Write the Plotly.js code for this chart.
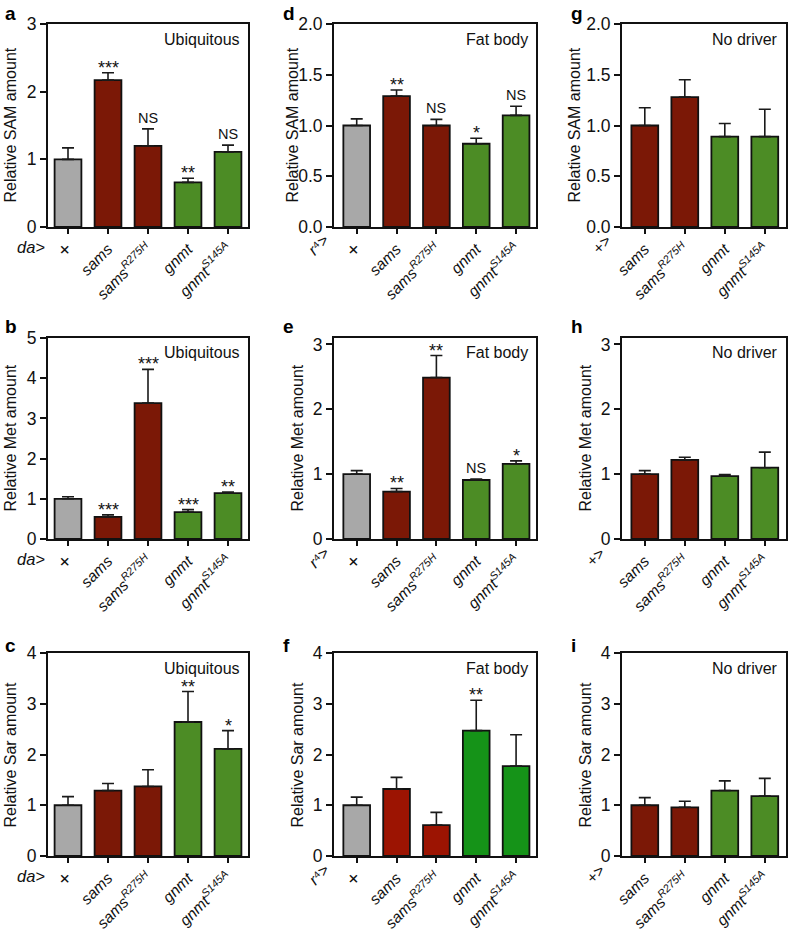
<!DOCTYPE html>
<html>
<head>
<meta charset="utf-8">
<script src="https://cdn.plot.ly/plotly-3.0.1.min.js"></script>
<style>html,body{margin:0;padding:0;background:#fff;}#chart{width:788px;height:933px;}</style>
</head>
<body>
<div id="chart"></div>
<script>
// ---------- DATA ----------
const ticks5 = ['<span style="font-size:20px">+</span>', '<i>sams</i>', '<i>sams</i><sup><i>R275H</i></sup>', '<i>gnmt</i>', '<i>gnmt</i><sup><i>S145A</i></sup>'];
const ticks4 = ['<i>sams</i>', '<i>sams</i><sup><i>R275H</i></sup>', '<i>gnmt</i>', '<i>gnmt</i><sup><i>S145A</i></sup>'];

const samA = [1.00, 2.17, 1.20, 0.66, 1.11];
const samAerr = [0.17, 0.11, 0.25, 0.06, 0.10];
const sigA = ['', '***', 'NS', '**', 'NS'];

const samD = [1.00, 1.29, 1.00, 0.82, 1.10];
const samDerr = [0.065, 0.06, 0.06, 0.055, 0.09];
const sigD = ['', '**', 'NS', '*', 'NS'];

const samG = [1.00, 1.28, 0.89, 0.89];
const samGerr = [0.175, 0.17, 0.13, 0.27];

const metB = [1.00, 0.55, 3.38, 0.67, 1.14];
const metBerr = [0.05, 0.05, 0.84, 0.06, 0.03];
const sigB = ['', '***', '***', '***', '**'];

const metE = [1.00, 0.73, 2.49, 0.91, 1.16];
const metEerr = [0.055, 0.05, 0.34, 0.015, 0.045];
const sigE = ['', '**', '**', 'NS', '*'];

const metH = [1.00, 1.22, 0.97, 1.10];
const metHerr = [0.055, 0.04, 0.025, 0.24];

const sarC = [1.00, 1.29, 1.37, 2.64, 2.11];
const sarCerr = [0.17, 0.14, 0.33, 0.60, 0.36];
const sigC = ['', '', '', '**', '*'];

const sarF = [1.00, 1.32, 0.61, 2.47, 1.77];
const sarFerr = [0.16, 0.23, 0.25, 0.60, 0.62];
const sigF = ['', '', '', '**', ''];

const sarI = [1.00, 0.96, 1.29, 1.18];
const sarIerr = [0.15, 0.12, 0.19, 0.35];

// ---------- STYLE ----------
const GRAY = '#a8a8a8', RED = '#7b1806', GREEN = '#4c8c25';
const RED2 = '#9c1402', GREEN2 = '#159318';
const FONT = 'Liberation Sans, Arial, Helvetica, sans-serif';
const W = 788, H = 933;
const px = v => v / W, py = v => 1 - v / H;

const colsX = [[48, 248], [334, 536], [622, 786]];
const rowsY = [[24, 227], [338, 539], [653, 856]];
const titleXs = [[10, 292, 574], [10, 297, 585], [10, 297, 585]];
const letterDy = [10.5, 12, 8];
const plusX = [602, 595, 595];

const panels = [
  {letter:'a', col:0, row:0, vals:samA, err:samAerr, sig:sigA, ticks:ticks5, yr:[0,3], dt:1, fmt:'', ytitle:'Relative SAM amount', tag:'Ubiquitous', prefix:'da>', colors:[GRAY,RED,RED,GREEN,GREEN]},
  {letter:'d', col:1, row:0, vals:samD, err:samDerr, sig:sigD, ticks:ticks5, yr:[0,2], dt:0.5, fmt:'.1f', ytitle:'Relative SAM amount', tag:'Fat body', prefix:'r4', colors:[GRAY,RED,RED,GREEN,GREEN]},
  {letter:'g', col:2, row:0, vals:samG, err:samGerr, sig:null, ticks:ticks4, yr:[0,2], dt:0.5, fmt:'.1f', ytitle:'Relative SAM amount', tag:'No driver', prefix:'+>', colors:[RED,RED,GREEN,GREEN]},
  {letter:'b', col:0, row:1, vals:metB, err:metBerr, sig:sigB, ticks:ticks5, yr:[0,5], dt:1, fmt:'', ytitle:'Relative Met amount', tag:'Ubiquitous', prefix:'da>', colors:[GRAY,RED,RED,GREEN,GREEN]},
  {letter:'e', col:1, row:1, vals:metE, err:metEerr, sig:sigE, ticks:ticks5, yr:[0,3.1], dt:1, fmt:'', ytitle:'Relative Met amount', tag:'Fat body', prefix:'r4', colors:[GRAY,RED,RED,GREEN,GREEN]},
  {letter:'h', col:2, row:1, vals:metH, err:metHerr, sig:null, ticks:ticks4, yr:[0,3.1], dt:1, fmt:'', ytitle:'Relative Met amount', tag:'No driver', prefix:'+>', colors:[RED,RED,GREEN,GREEN]},
  {letter:'c', col:0, row:2, vals:sarC, err:sarCerr, sig:sigC, ticks:ticks5, yr:[0,4], dt:1, fmt:'', ytitle:'Relative Sar amount', tag:'Ubiquitous', prefix:'da>', colors:[GRAY,RED,RED,GREEN,GREEN]},
  {letter:'f', col:1, row:2, vals:sarF, err:sarFerr, sig:sigF, ticks:ticks5, yr:[0,4], dt:1, fmt:'', ytitle:'Relative Sar amount', tag:'Fat body', prefix:'r4', colors:[GRAY,RED2,RED2,GREEN2,GREEN2]},
  {letter:'i', col:2, row:2, vals:sarI, err:sarIerr, sig:null, ticks:ticks4, yr:[0,4], dt:1, fmt:'', ytitle:'Relative Sar amount', tag:'No driver', prefix:'+>', colors:[RED,RED,GREEN,GREEN]}
];

const data = [];
const layout = {
  width: W, height: H,
  margin: {l:0, r:0, t:0, b:0},
  paper_bgcolor: '#fff', plot_bgcolor: '#fff',
  showlegend: false,
  font: {family: FONT, size: 16, color: '#111'},
  annotations: []
};

panels.forEach((p, k) => {
  const n = k + 1;
  const xa = 'x' + n, ya = 'y' + n;
  const xs = p.vals.map((_, i) => i);
  data.push({
    type: 'bar', x: xs, y: p.vals, xaxis: xa, yaxis: ya,
    width: 0.67,
    marker: {color: p.colors, line: {color: '#111', width: 1.8}},
    error_y: {type: 'data', array: p.err, arrayminus: p.err.map(() => 0), symmetric: false,
              visible: true, color: '#1a1a1a', thickness: 1.6, width: 6},
    hoverinfo: 'none'
  });
  const [x0, x1] = colsX[p.col];
  const [y0, y1] = rowsY[p.row];
  const nCat = p.vals.length;
  const xr = p.col === 0 ? [-0.5, nCat - 0.5] : [-0.57, nCat - 0.5 + (p.col === 2 ? 0.03 : 0)];
  const ticksY = [];
  for (let v = 0; v <= p.yr[1] + 1e-9; v += p.dt) ticksY.push(+v.toFixed(2));
  layout['xaxis' + (n === 1 ? '' : n)] = {
    domain: [px(x0), px(x1)], anchor: ya, range: xr,
    tickmode: 'array', tickvals: xs, ticktext: p.ticks, tickangle: -45,
    ticks: 'outside', ticklen: 5, tickwidth: 2, tickcolor: '#111',
    showline: true, linewidth: 2, linecolor: '#111', mirror: true,
    showgrid: false, zeroline: false, fixedrange: true,
    tickfont: {family: FONT, size: 15.5, color: '#111'}
  };
  layout['yaxis' + (n === 1 ? '' : n)] = {
    domain: [py(y1), py(y0)], anchor: xa, range: p.yr,
    tickmode: 'array', tickvals: ticksY,
    ticktext: ticksY.map(v => p.fmt ? v.toFixed(1) : String(v)),
    ticks: 'outside', ticklen: 6, tickwidth: 2, tickcolor: '#111',
    showline: true, linewidth: 2, linecolor: '#111', mirror: true,
    showgrid: false, zeroline: false, fixedrange: true,
    tickfont: {family: FONT, size: 17.5, color: '#111'}
  };
  // panel letter
  layout.annotations.push({
    xref: 'paper', yref: 'paper', x: px(x0 - (p.col === 0 ? 45 : 53)), y: py(y0 - letterDy[p.row]),
    text: '<b>' + p.letter + '</b>', showarrow: false, xanchor: 'left', yanchor: 'middle',
    font: {family: FONT, size: 19, color: '#000'}
  });
  // tag in top-right
  layout.annotations.push({
    xref: 'paper', yref: 'paper', x: px(x1 - 6), y: py(y0 + 15),
    text: p.tag, showarrow: false, xanchor: 'right', yanchor: 'middle',
    font: {family: FONT, size: 16, color: '#111'}
  });
  // y title
  layout.annotations.push({
    xref: 'paper', yref: 'paper', x: px(titleXs[p.row][p.col]), y: py((y0 + y1) / 2),
    text: p.ytitle, showarrow: false, textangle: -90, xanchor: 'center', yanchor: 'middle',
    font: {family: FONT, size: 16, color: '#111'}
  });
  // prefix
  if (p.prefix === 'da>') {
    layout.annotations.push({
      xref: 'paper', yref: 'paper', x: px(31), y: py(y1 + 20),
      text: '<i>da&gt;</i>', showarrow: false, xanchor: 'center', yanchor: 'middle',
      font: {family: FONT, size: 16.5, color: '#111'}
    });
  } else if (p.prefix === 'r4') {
    layout.annotations.push({
      xref: 'paper', yref: 'paper', x: px(319), y: py(y1 + 18),
      text: '<i>r</i>\u2074&gt;', showarrow: false, textangle: -45, xanchor: 'center', yanchor: 'middle',
      font: {family: FONT, size: 16, color: '#111'}
    });
  } else {
    layout.annotations.push({
      xref: 'paper', yref: 'paper', x: px(plusX[p.row]), y: py(y1 + 18),
      text: '+&gt;', showarrow: false, textangle: -45, xanchor: 'center', yanchor: 'middle',
      font: {family: FONT, size: 16, color: '#111'}
    });
  }
  // significance marks
  if (p.sig) {
    p.sig.forEach((s, i) => {
      if (!s) return;
      const star = s.indexOf('*') >= 0;
      layout.annotations.push({
        xref: xa, yref: ya, x: i, y: p.vals[i] + p.err[i],
        text: s, showarrow: false, xanchor: 'center', yanchor: 'bottom',
        yshift: star ? -7 : 1,
        font: {family: FONT, size: star ? 18 : 14.5, color: '#111'}
      });
    });
  }
});

Plotly.newPlot('chart', data, layout, {displayModeBar: false, staticPlot: true});
</script>
</body>
</html>
